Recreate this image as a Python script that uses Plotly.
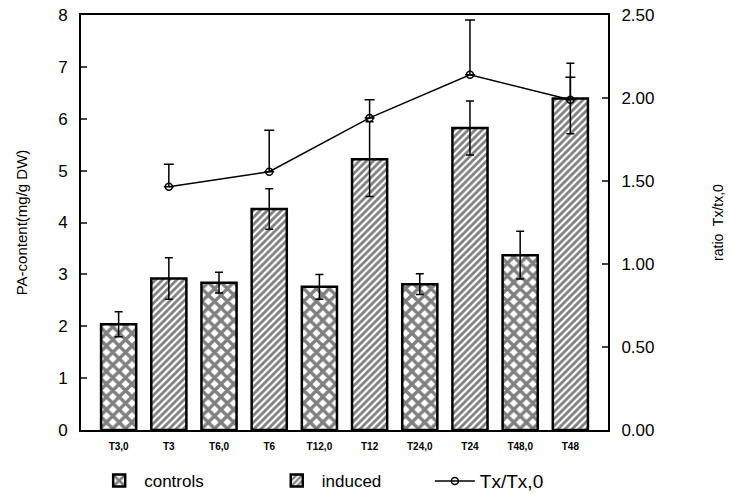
import plotly.graph_objects as go

# Sampling times (controls "Tx,0" and induced "Tx" alternate along the axis)
categories = ["T3,0", "T3", "T6,0", "T6", "T12,0", "T12", "T24,0", "T24", "T48,0", "T48"]

control_labels = ["T3,0", "T6,0", "T12,0", "T24,0", "T48,0"]
control_values = [2.04, 2.84, 2.76, 2.81, 3.37]
control_errors = [0.24, 0.20, 0.24, 0.20, 0.46]

induced_labels = ["T3", "T6", "T12", "T24", "T48"]
induced_values = [2.92, 4.26, 5.22, 5.82, 6.39]
induced_errors = [0.40, 0.39, 0.72, 0.52, 0.68]

ratio_values = [1.466, 1.556, 1.88, 2.14, 1.99]
ratio_errors = [0.135, 0.25, 0.11, 0.33, 0.135]

left_ticks = [0, 1, 2, 3, 4, 5, 6, 7, 8]
right_ticks = [0.0, 0.5, 1.0, 1.5, 2.0, 2.5]

FONT = "Liberation Sans"

fig = go.Figure()

fig.add_trace(go.Bar(
    x=control_labels, y=control_values, name="controls", legend="legend",
    width=0.7,
    marker=dict(color="white", line=dict(color="black", width=2.5),
                pattern=dict(shape="x", size=9, solidity=0.6,
                             fgcolor="black", bgcolor="white")),
    error_y=dict(type="data", array=control_errors, color="black",
                 thickness=1.5, width=4),
))

fig.add_trace(go.Bar(
    x=induced_labels, y=induced_values, name="induced", legend="legend2",
    width=0.7,
    marker=dict(color="white", line=dict(color="black", width=2.5),
                pattern=dict(shape="/", size=5, solidity=0.55,
                             fgcolor="black", bgcolor="white")),
    error_y=dict(type="data", array=induced_errors, color="black",
                 thickness=1.5, width=4),
))

fig.add_trace(go.Scatter(
    x=induced_labels, y=ratio_values, name="Tx/Tx,0", yaxis="y2",
    legend="legend3",
    mode="lines+markers",
    line=dict(color="black", width=1.5),
    marker=dict(symbol="circle-open", size=7, color="black",
                line=dict(width=1.5)),
    error_y=dict(type="data", symmetric=False, array=ratio_errors,
                 arrayminus=[0] * len(ratio_errors), color="black",
                 thickness=1.5, width=5),
))

legend_common = dict(orientation="h", xanchor="left", y=-0.123,
                     yanchor="middle", itemwidth=40,
                     bgcolor="rgba(0,0,0,0)")

fig.update_layout(
    width=729, height=494,
    margin=dict(l=81, r=121, t=15, b=64, autoexpand=False),
    paper_bgcolor="white", plot_bgcolor="white",
    barmode="overlay",
    font=dict(family=FONT, color="black", size=15),
    showlegend=True,
    legend=dict(x=0.025, font=dict(size=17), **legend_common),
    legend2=dict(x=0.362, font=dict(size=17), **legend_common),
    legend3=dict(x=0.662, font=dict(size=19), **legend_common),
    xaxis=dict(
        type="category", categoryorder="array", categoryarray=categories,
        range=[-0.75, 9.75], showline=True, linewidth=2, linecolor="black",
        mirror=True, ticks="", showgrid=False, ticklabelstandoff=6,
        tickfont=dict(size=10, family=FONT, weight="bold"),
    ),
    yaxis=dict(
        range=[0, 8], tickvals=left_ticks, showline=True, linewidth=2,
        linecolor="black", ticks="inside", ticklen=6, tickwidth=1.5,
        showgrid=False, zeroline=False, ticklabelstandoff=8,
        title=dict(text="PA-content(mg/g DW)", font=dict(size=15), standoff=27),
        tickfont=dict(size=17),
    ),
    yaxis2=dict(
        range=[0, 2.5], tickvals=right_ticks, tickformat=".2f",
        overlaying="y", side="right", showline=True, linewidth=2,
        linecolor="black", ticks="inside", ticklen=6, tickwidth=1.5,
        showgrid=False, zeroline=False, ticklabelstandoff=8,
        title=dict(text="ratio  Tx/tx,0", font=dict(size=14), standoff=60),
        tickfont=dict(size=17),
    ),
)

fig.write_html("out.html")
